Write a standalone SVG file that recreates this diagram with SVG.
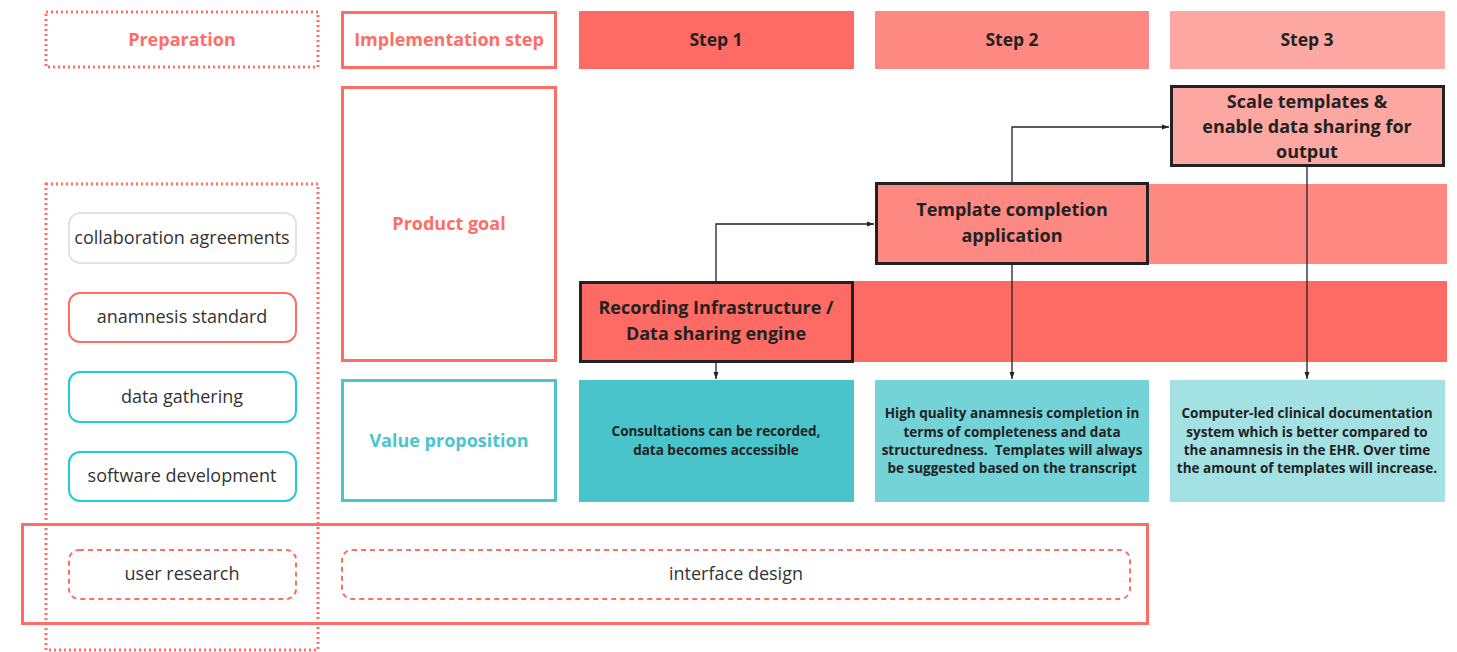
<svg xmlns="http://www.w3.org/2000/svg" width="1457" height="652" viewBox="0 0 1457 652">
  <style>
    text { font-family: "Open Sans", "Noto Sans", "Liberation Sans", sans-serif; text-anchor: middle; dominant-baseline: central; }
    .hdr { font-size: 18px; font-weight: 700; fill: #FF6E66; }
    .teal-hdr { font-size: 18px; font-weight: 700; fill: #4BC5CB; }
    .step { font-size: 17.5px; font-weight: 700; fill: #222; }
    .item { font-size: 18px; fill: #333; }
    .goal { font-size: 18px; font-weight: 700; fill: #222; }
    .val { font-size: 13.5px; font-weight: 700; fill: #222; }
    .dotted { fill: none; stroke: #FF6E66; stroke-width: 3; stroke-dasharray: 2 3; }
    .frame { fill: none; stroke: #FF6E66; stroke-width: 3; }
    .pill { fill: #fff; stroke-width: 2; }
    .dash { fill: none; stroke: #FF6E66; stroke-width: 2; stroke-dasharray: 5 4; }
    .goalbox { stroke: #222; stroke-width: 3; }
    .conn { fill: none; stroke: #222; stroke-width: 1.3; }
  </style>
  <defs>
    <marker id="arr" markerWidth="8" markerHeight="8" refX="7" refY="4" orient="auto" markerUnits="userSpaceOnUse">
      <path d="M0,1.5 L7,4 L0,6.5 Z" fill="#222"/>
    </marker>
  </defs>
  <rect width="1457" height="652" fill="#fff"/>

  <!-- Preparation column -->
  <g id="preparation">
    <rect class="dotted" x="46" y="12" width="272" height="55"/>
    <text class="hdr" x="182" y="39">Preparation</text>
  </g>
  <g id="preparation-column">
    <rect class="dotted" x="46" y="184" width="272" height="466"/>
  </g>
  <g id="collaboration">
    <rect class="pill" x="69" y="213" width="227" height="50" rx="11" stroke="#E2E2E2"/>
    <text class="item" x="182" y="237">collaboration agreements</text>
  </g>
  <g id="anamnesis">
    <rect class="pill" x="69" y="293" width="227" height="49" rx="11" stroke="#FF6E66"/>
    <text class="item" x="182" y="316">anamnesis standard</text>
  </g>
  <g id="data-gathering">
    <rect class="pill" x="69" y="372" width="227" height="50" rx="11" stroke="#22CCD4"/>
    <text class="item" x="182" y="396">data gathering</text>
  </g>
  <g id="software">
    <rect class="pill" x="69" y="452" width="227" height="49" rx="11" stroke="#22CCD4"/>
    <text class="item" x="182" y="475">software development</text>
  </g>

  <!-- Row headers -->
  <g id="impl-step">
    <rect class="frame" x="342.5" y="12.5" width="213" height="55"/>
    <text class="hdr" x="449" y="39">Implementation step</text>
  </g>
  <g id="product-goal">
    <rect class="frame" x="342.5" y="87.5" width="213" height="273"/>
    <text class="hdr" x="449" y="223">Product goal</text>
  </g>
  <g id="value-prop">
    <rect x="342.5" y="380.5" width="213" height="120" fill="none" stroke="#4BC5CB" stroke-width="3"/>
    <text class="teal-hdr" x="449" y="440">Value proposition</text>
  </g>

  <!-- Steps -->
  <g id="step1">
    <rect x="579" y="11" width="275" height="58" fill="#FD6B64"/>
    <text class="step" x="716" y="39">Step 1</text>
  </g>
  <g id="step2">
    <rect x="875" y="11" width="274" height="58" fill="#FE8882"/>
    <text class="step" x="1012" y="39">Step 2</text>
  </g>
  <g id="step3">
    <rect x="1170" y="11" width="275" height="58" fill="#FDA7A3"/>
    <text class="step" x="1307" y="39">Step 3</text>
  </g>

  <!-- Goal bands -->
  <g id="band1"><rect x="853" y="281" width="594" height="81" fill="#FD6B64"/></g>
  <g id="band2"><rect x="1148" y="184" width="299" height="80" fill="#FE8882"/></g>

  <!-- Connectors -->
  <g id="connectors">
    <path class="conn" d="M716,281 V224 H874" marker-end="url(#arr)"/>
    <path class="conn" d="M1012,183 V127 H1169" marker-end="url(#arr)"/>
    <path class="conn" d="M716,363 V379" marker-end="url(#arr)"/>
    <path class="conn" d="M1012,265 V379" marker-end="url(#arr)"/>
    <path class="conn" d="M1307,167 V379" marker-end="url(#arr)"/>
  </g>

  <!-- Goals -->
  <g id="goal1">
    <rect class="goalbox" x="580.5" y="282.5" width="272" height="79" fill="#FD6B64"/>
    <text class="goal" x="716" y="307">Recording Infrastructure /</text>
    <text class="goal" x="716" y="333">Data sharing engine</text>
  </g>
  <g id="goal2">
    <rect class="goalbox" x="876.5" y="183.5" width="271" height="80" fill="#FE8882"/>
    <text class="goal" x="1012" y="209">Template completion</text>
    <text class="goal" x="1012" y="235">application</text>
  </g>
  <g id="goal3">
    <rect class="goalbox" x="1171.5" y="86.5" width="272" height="79" fill="#FDA7A3"/>
    <text class="goal" x="1307" y="101">Scale templates &amp;</text>
    <text class="goal" x="1307" y="126">enable data sharing for</text>
    <text class="goal" x="1307" y="151">output</text>
  </g>

  <!-- Value propositions -->
  <g id="value1">
    <rect x="579" y="380" width="275" height="122" fill="#48C4CA"/>
    <text class="val" x="716" y="431">Consultations can be recorded,</text>
    <text class="val" x="716" y="450">data becomes accessible</text>
  </g>
  <g id="value2">
    <rect x="875" y="380" width="274" height="122" fill="#73D3D7"/>
    <text class="val" x="1012" y="413">High quality anamnesis completion in</text>
    <text class="val" x="1012" y="432">terms of completeness and data</text>
    <text class="val" x="1012" y="450">structuredness.&#160; Templates will always</text>
    <text class="val" x="1012" y="468">be suggested based on the transcript</text>
  </g>
  <g id="value3">
    <rect x="1170" y="380" width="275" height="122" fill="#A3E1E3"/>
    <text class="val" x="1307" y="413">Computer-led clinical documentation</text>
    <text class="val" x="1307" y="432">system which is better compared to</text>
    <text class="val" x="1307" y="450">the anamnesis in the EHR. Over time</text>
    <text class="val" x="1307" y="468">the amount of templates will increase.</text>
  </g>

  <!-- Design row -->
  <g id="design-row">
    <rect class="frame" x="22.5" y="524.5" width="1125" height="99"/>
  </g>
  <g id="user-research">
    <rect class="dash" x="69" y="550" width="227" height="49" rx="10"/>
    <text class="item" x="182" y="573">user research</text>
  </g>
  <g id="interface-design">
    <rect class="dash" x="342" y="550" width="788" height="49" rx="10"/>
    <text class="item" x="736" y="573">interface design</text>
  </g>
</svg>
